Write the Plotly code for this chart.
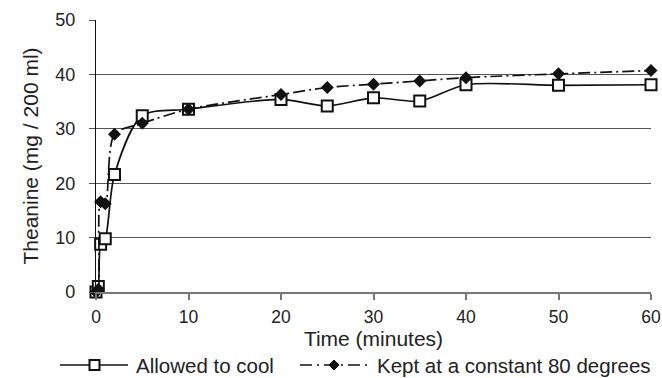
import plotly.graph_objects as go

time_cool = [0, 0.25, 0.5, 1, 2, 5, 10, 20, 25, 30, 35, 40, 50, 60]
theanine_cool = [0, 1.0, 8.8, 9.8, 21.6, 32.4, 33.6, 35.4, 34.2, 35.7, 35.1, 38.1, 38.0, 38.1]

time_hot = [0, 0.25, 0.5, 1, 2, 5, 10, 20, 25, 30, 35, 40, 50, 60]
theanine_hot = [0, 0.5, 16.6, 16.2, 29.0, 31.0, 33.6, 36.3, 37.6, 38.2, 38.8, 39.4, 40.1, 40.7]

x_ticks = [0, 10, 20, 30, 40, 50, 60]
y_ticks = [0, 10, 20, 30, 40, 50]

series_names = ["Allowed to cool", "Kept at a constant 80 degrees"]

font = "Liberation Sans, Arial, sans-serif"
W, H = 662, 378
ML, MR, MT, MB = 96, 11, 20, 86
PW, PH = W - ML - MR, H - MT - MB


def px(xp):
    return (xp - ML) / PW


def py(yp):
    return (H - MB - yp) / PH


fig = go.Figure()
fig.add_trace(go.Scatter(
    x=time_cool, y=theanine_cool, name=series_names[0],
    mode="lines+markers", line=dict(color="#111111", width=1.7, shape="spline", smoothing=0.8),
    marker=dict(symbol="square", size=11, color="white", line=dict(width=2, color="#111111")),
    cliponaxis=False, showlegend=False,
))
fig.add_trace(go.Scatter(
    x=time_hot, y=theanine_hot, name=series_names[1],
    mode="lines+markers", line=dict(color="#111111", width=1.7, dash="12px,4px,2px,4px", shape="spline", smoothing=0.8),
    marker=dict(symbol="diamond", size=10, color="#111111"),
    cliponaxis=False, showlegend=False,
))

# custom legend (to get the long sample lines of the original)
ly = 365
shapes = [
    dict(type="line", xref="paper", yref="paper", x0=px(60), x1=px(128), y0=py(ly), y1=py(ly),
         line=dict(color="#111111", width=1.7)),
    dict(type="rect", xref="paper", yref="paper", x0=px(89.5), x1=px(99.5), y0=py(ly - 5), y1=py(ly + 5),
         line=dict(color="#111111", width=2), fillcolor="white"),
    dict(type="line", xref="paper", yref="paper", x0=px(300), x1=px(369), y0=py(ly), y1=py(ly),
         line=dict(color="#111111", width=1.7, dash="12px,5px,2px,5px")),
    dict(type="path", xref="paper", yref="paper",
         path=f"M {px(334)},{py(ly - 5)} L {px(339)},{py(ly)} L {px(334)},{py(ly + 5)} L {px(329)},{py(ly)} Z",
         line=dict(color="#111111", width=1), fillcolor="#111111"),
]
annotations = [
    dict(text=series_names[0], xref="paper", yref="paper", x=px(134), y=py(ly),
         xanchor="left", yanchor="middle", showarrow=False, font=dict(size=20.5, color="#222222")),
    dict(text=series_names[1], xref="paper", yref="paper", x=px(375), y=py(ly),
         xanchor="left", yanchor="middle", showarrow=False, font=dict(size=20.5, color="#222222")),
]

fig.update_layout(
    width=W, height=H,
    margin=dict(l=ML, r=MR, t=MT, b=MB),
    paper_bgcolor="white", plot_bgcolor="white",
    font=dict(family=font, size=18, color="#222222"),
    showlegend=False,
    shapes=shapes, annotations=annotations,
    xaxis=dict(
        range=[0, 60], tickvals=x_ticks, showgrid=False, zeroline=False,
        showline=True, linecolor="#777777", linewidth=2,
        ticks="outside", ticklen=6, tickcolor="#777777", tickwidth=1.5,
        title=dict(text="Time (minutes)", standoff=2, font=dict(size=21)),
        tickfont=dict(size=17.5), automargin=False, ticklabelstandoff=2,
        ticklabeloverflow="allow",
    ),
    yaxis=dict(
        range=[0, 50], tickvals=y_ticks, showgrid=True, gridcolor="#555555", gridwidth=1.3,
        zeroline=False, showline=True, linecolor="#111111", linewidth=1.3,
        ticks="outside", ticklen=6, tickcolor="#555555",
        title=dict(text="Theanine (mg / 200 ml)", standoff=10, font=dict(size=21)),
        tickfont=dict(size=18), automargin=False, ticklabelstandoff=10,
    ),
)

fig.write_html("out.html")
